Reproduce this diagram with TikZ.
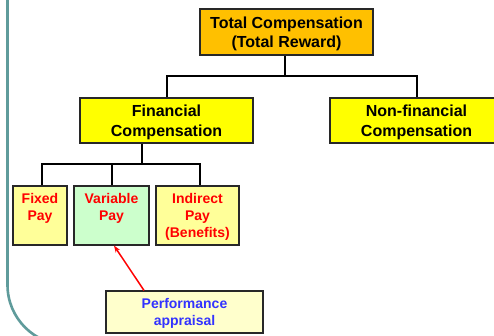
\documentclass[tikz,border=0pt]{standalone}
\usepackage{fontspec}
\setmainfont{Liberation Sans}
\usetikzlibrary{arrows.meta}
\definecolor{frameteal}{RGB}{95,155,155}
\definecolor{topfill}{RGB}{255,192,0}
\definecolor{midfill}{RGB}{255,255,0}
\definecolor{lowfill}{RGB}{255,255,153}
\definecolor{greenfill}{RGB}{204,255,204}
\definecolor{perffill}{RGB}{255,255,204}
\definecolor{bluetext}{RGB}{51,51,255}
\definecolor{edgegray}{RGB}{40,40,40}
\tikzset{
  box/.style={draw=edgegray, line width=1.1pt, inner sep=0pt, text depth=0pt, align=center, font=\bfseries},
  bigtext/.style={font=\fontsize{16}{19.5}\selectfont\bfseries},
  smalltext/.style={font=\fontsize{14}{17}\selectfont\bfseries},
  conn/.style={line width=2pt, black},
}
\begin{document}
\begin{tikzpicture}[x=1pt,y=-1pt]
\useasboundingbox (0,0) rectangle (494,336);
\clip (0,0) rectangle (494,336);
% frame
\draw[frameteal, line width=2.6pt] (7.5,-10) -- (7.5,285) arc[start angle=180, end angle=90, radius=60];
% nodes
\node[box, bigtext, fill=topfill, minimum width=173pt, minimum height=46pt] (top) at (286.5,32) {Total Compensation\\(Total Reward)};
\node[box, bigtext, fill=midfill, minimum width=173pt, minimum height=45pt] (fin) at (166.5,120.5) {Financial\\Compensation};
\node[box, bigtext, fill=midfill, minimum width=173pt, minimum height=45pt] (nonfin) at (416.5,120.5) {Non-financial\\Compensation};
\node[box, smalltext, text=red, fill=lowfill, minimum width=54pt, minimum height=59pt] (fixed) at (40,215.5) {Fixed\\Pay\\\strut};
\node[box, smalltext, text=red, fill=greenfill, minimum width=75pt, minimum height=59pt] (variable) at (111.5,215.5) {Variable\\Pay\\\strut};
\node[box, smalltext, text=red, fill=lowfill, minimum width=83pt, minimum height=59pt] (indirect) at (197.5,215.5) {Indirect\\Pay\\(Benefits)};
\node[box, smalltext, text=bluetext, fill=perffill, minimum width=157pt, minimum height=42pt] (perf) at (184.5,312) {Performance\\appraisal};
% connectors
\coordinate (topbus) at (285,76);
\draw[conn] ([xshift=-1.5pt]top.south) -- (topbus);
\draw[conn] (fin.north) |- (topbus) -| (nonfin.north);
\coordinate (finout) at ([xshift=-24.5pt]fin.south);
\coordinate (finbus) at (142,164.5);
\draw[conn] (finout) -- (finbus);
\draw[conn] ([xshift=1.5pt]fixed.north) |- (finbus) -| ([xshift=2.5pt]indirect.north);
\draw[conn] ([xshift=0.5pt]variable.north) -- ([xshift=0.5pt]variable.north |- finbus);
\draw[red, line width=1.5pt, -{Stealth[length=7pt,width=5pt]}] ([xshift=-40.5pt]perf.north) -- ([xshift=2.5pt]variable.south);
\end{tikzpicture}
\end{document}
